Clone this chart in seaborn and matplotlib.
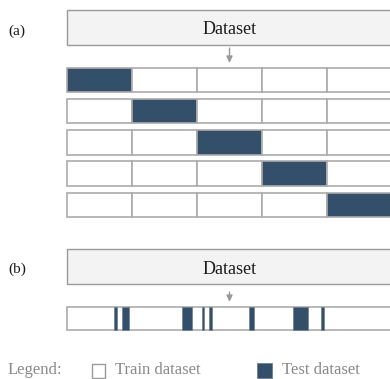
import matplotlib
matplotlib.use("Agg")
import matplotlib.pyplot as plt
import seaborn as sns
from matplotlib.patches import Rectangle

# ---- data -------------------------------------------------------------
# (a) k-fold cross validation: 5 folds, each row holds one fold out for testing
fold_names = ["Fold 1", "Fold 2", "Fold 3", "Fold 4", "Fold 5"]
test_fold_index = [0, 1, 2, 3, 4]
fold_share = [20, 20, 20, 20, 20]          # % of dataset per fold

# (b) random split: test segments as (start %, end %) of the dataset
random_test_start = [14.6, 17.0, 35.3, 41.4, 43.8, 56.1, 69.6, 78.2]
random_test_end = [15.5, 19.2, 38.4, 42.2, 44.7, 57.6, 74.2, 79.2]

panel_labels = ["(a)", "(b)"]
box_title = "Dataset"
legend_title = "Legend:"
legend_labels = ["Train dataset", "Test dataset"]

# ---- style ------------------------------------------------------------
sns.set_theme(style="white")
plt.rcParams["font.family"] = ["Liberation Serif", "DejaVu Serif"]

TEST = "#344f6a"
TRAIN = "#ffffff"
EDGE = "#ababab"
BOX_FILL = "#f3f3f3"
BOX_EDGE = "#9a9a9a"
TEXT = "#1a1a1a"
MUTED = "#8a8a8a"

W, H = 390, 379
fig = plt.figure(figsize=(W / 100, H / 100), dpi=100)
ax = fig.add_axes([0, 0, 1, 1])

# x axis in % of dataset: 0 % at pixel 67, 100 % at pixel 392
X0, PX_PER_PCT = 67, 3.25
ax.set_xlim(-X0 / PX_PER_PCT, (W - X0) / PX_PER_PCT)
ax.set_ylim(H, 0)
ax.axis("off")


def px(x):
    return (x - X0) / PX_PER_PCT


def dataset_box(top, bottom):
    ax.barh((top + bottom) / 2, 100, height=bottom - top, left=0,
            color=BOX_FILL, edgecolor=BOX_EDGE, linewidth=1.0, zorder=1)
    ax.text(50, (top + bottom) / 2 + 0.5, box_title, ha="center",
            va="center_baseline", fontsize=13, color=TEXT, zorder=3)


def arrow(y0, y1):
    ax.annotate("", xy=(50, y1), xytext=(50, y0),
                arrowprops=dict(arrowstyle="-|>,head_width=0.15,head_length=0.32",
                                color="#9a9a9a", lw=1.0, shrinkA=0, shrinkB=0))


# ---- panel (a) --------------------------------------------------------
ax.text(px(8), 30, panel_labels[0], ha="left", va="center_baseline",
        fontsize=11, color=TEXT)
dataset_box(10, 44.5)
arrow(48, 63)

row_tops = [67.7, 98.9, 130.1, 161.3, 192.5]
row_h = 24.5
lefts = [sum(fold_share[:i]) for i in range(len(fold_share))]
for r, (name, test_i) in enumerate(zip(fold_names, test_fold_index)):
    colors = [TEST if c == test_i else TRAIN for c in range(len(fold_share))]
    ax.barh([row_tops[r] + row_h / 2] * len(fold_share), fold_share,
            height=row_h, left=lefts, color=colors, edgecolor=EDGE,
            linewidth=1.2, zorder=2, label=name)

# ---- panel (b) --------------------------------------------------------
ax.text(px(8), 268, panel_labels[1], ha="left", va="center_baseline",
        fontsize=11, color=TEXT)
dataset_box(249, 284)
arrow(292, 302)

strip_top, strip_bot = 306.5, 330
ax.barh((strip_top + strip_bot) / 2, 100, height=strip_bot - strip_top, left=0,
        color=TRAIN, edgecolor=EDGE, linewidth=1.2, zorder=2)
widths = [e - s for s, e in zip(random_test_start, random_test_end)]
ax.barh([(strip_top + strip_bot) / 2] * len(widths), widths,
        height=strip_bot - strip_top - 1, left=random_test_start,
        color=TEST, edgecolor="#6f7f8f", linewidth=0.5, zorder=3)

# ---- legend -----------------------------------------------------------
ly = 370.5
ax.text(px(8), ly, legend_title, ha="left", va="center",
        fontsize=12, color=MUTED)
sq = 13.5 / PX_PER_PCT
ax.add_patch(Rectangle((px(91.5), ly - 6.5), sq, 13.5, facecolor=TRAIN,
                       edgecolor="#9a9a9a", linewidth=1.0, zorder=3))
ax.text(px(115), ly, legend_labels[0], ha="left", va="center",
        fontsize=12, color=MUTED)
ax.add_patch(Rectangle((px(257), ly - 7.5), 15 / PX_PER_PCT, 15, facecolor=TEST,
                       edgecolor="#6f7f8f", linewidth=0.6, zorder=3))
ax.text(px(282), ly, legend_labels[1], ha="left", va="center",
        fontsize=12, color=MUTED)

fig.savefig("out.png", dpi=100)
